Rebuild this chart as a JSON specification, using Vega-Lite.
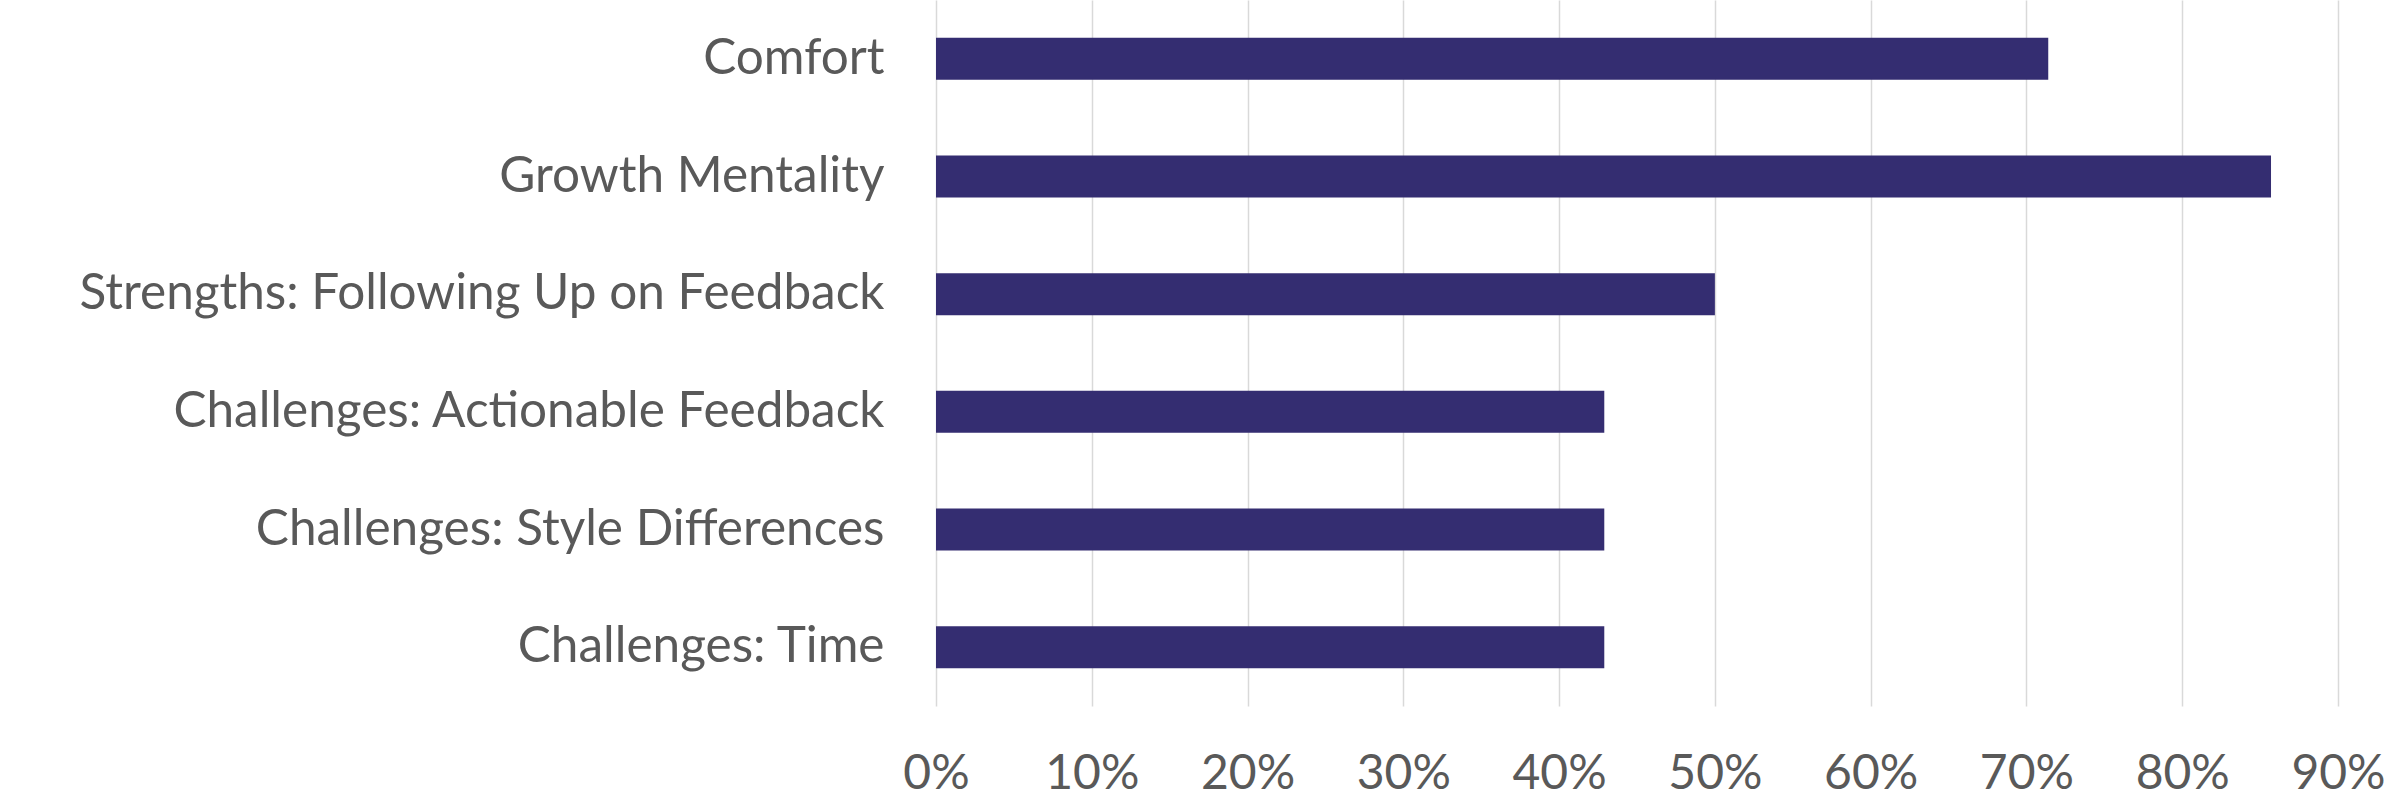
{
  "$schema": "https://vega.github.io/schema/vega-lite/v6.json",
  "autosize": {"type": "none"},
  "padding": {"left": 936, "top": 0, "right": 68, "bottom": 96},
  "width": 1402,
  "height": 706,
  "background": "white",
  "data": {
    "values": [
      {"category": "Comfort", "value": 0.714},
      {"category": "Growth Mentality", "value": 0.857},
      {"category": "Strengths: Following Up on Feedback", "value": 0.5},
      {"category": "Challenges: Actionable Feedback", "value": 0.429},
      {"category": "Challenges: Style Differences", "value": 0.429},
      {"category": "Challenges: Time", "value": 0.429}
    ]
  },
  "mark": {"type": "bar", "color": "#342D71"},
  "encoding": {
    "y": {
      "field": "category",
      "type": "nominal",
      "sort": null,
      "scale": {"paddingInner": 0.643, "paddingOuter": 0.3215},
      "axis": {
        "title": null,
        "ticks": false,
        "domain": false,
        "labelPadding": 52,
        "labelFont": "Lato",
        "labelFontSize": 49.5,
        "labelColor": "#595959",
        "labelLimit": 1000
      }
    },
    "x": {
      "field": "value",
      "type": "quantitative",
      "scale": {"domain": [0, 0.9], "nice": false},
      "axis": {
        "title": null,
        "values": [0, 0.1, 0.2, 0.3, 0.4, 0.5, 0.6, 0.7, 0.8, 0.9],
        "format": ".0%",
        "ticks": false,
        "domain": false,
        "grid": true,
        "gridColor": "#D9D9D9",
        "gridWidth": 1.5,
        "labelPadding": 44,
        "labelFont": "Lato",
        "labelFontSize": 48,
        "labelColor": "#595959",
        "labelFlush": false
      }
    }
  },
  "config": {"view": {"stroke": null}}
}
